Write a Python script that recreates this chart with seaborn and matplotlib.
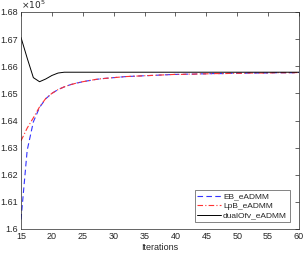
import numpy as np
import pandas as pd
import matplotlib

matplotlib.use('Agg')
import matplotlib.pyplot as plt
from matplotlib.ticker import FuncFormatter, MultipleLocator
import seaborn as sns

# values in units of 1e5
iterations = list(range(15, 61))
eb_eadmm = [1.6035, 1.6290, 1.6395, 1.6448, 1.6480, 1.6500, 1.6514, 1.6524, 1.6532, 1.6538,
            1.6543, 1.6547, 1.6551, 1.6554, 1.6556, 1.6558, 1.6560, 1.6562, 1.6563, 1.6564,
            1.6565, 1.6566, 1.6567, 1.6568, 1.6569, 1.6570, 1.6570, 1.6571, 1.6571, 1.6572,
            1.6572, 1.6573, 1.6573, 1.6573, 1.6574, 1.6574, 1.6574, 1.6575, 1.6575, 1.6575,
            1.6575, 1.6576, 1.6576, 1.6576, 1.6576, 1.6577]
lpb_eadmm = [1.6325, 1.6372, 1.6410, 1.6450, 1.6481, 1.6500, 1.6514, 1.6524, 1.6532, 1.6538,
             1.6543, 1.6547, 1.6551, 1.6554, 1.6556, 1.6558, 1.6560, 1.6562, 1.6563, 1.6564,
             1.6565, 1.6566, 1.6567, 1.6568, 1.6569, 1.6570, 1.6570, 1.6571, 1.6571, 1.6572,
             1.6572, 1.6573, 1.6573, 1.6573, 1.6574, 1.6574, 1.6574, 1.6575, 1.6575, 1.6575,
             1.6575, 1.6576, 1.6576, 1.6576, 1.6576, 1.6577]
dualofv_eadmm = [1.6706, 1.6630, 1.6558, 1.6543, 1.6553, 1.6566, 1.6575, 1.6578, 1.6578, 1.6578,
                 1.6578, 1.6578, 1.6578, 1.6578, 1.6578, 1.6578, 1.6578, 1.6578, 1.6578, 1.6578,
                 1.6578, 1.6578, 1.6578, 1.6578, 1.6578, 1.6578, 1.6578, 1.6578, 1.6578, 1.6578,
                 1.6578, 1.6578, 1.6578, 1.6578, 1.6578, 1.6578, 1.6578, 1.6578, 1.6578, 1.6578,
                 1.6578, 1.6578, 1.6578, 1.6578, 1.6578, 1.6578]

sns.set_style("white")
plt.rcParams['font.family'] = ['Liberation Sans', 'DejaVu Sans']

fig = plt.figure(figsize=(3.05, 2.54), dpi=100)
ax = fig.add_axes([21 / 305, 1 - 229 / 254, 278 / 305, 217 / 254])

sns.lineplot(x=iterations, y=eb_eadmm, ax=ax, color=(0.2, 0.2, 1.0), linewidth=0.8,
             linestyle=(0, (5, 3)), label='EB_eADMM')
sns.lineplot(x=iterations, y=lpb_eadmm, ax=ax, color=(1.0, 0.2, 0.2), linewidth=0.8,
             linestyle=(0, (5, 2, 1, 2)), label='LpB_eADMM')
sns.lineplot(x=iterations, y=dualofv_eadmm, ax=ax, color='black', linewidth=0.7,
             label='dualOfv_eADMM')

ax.set_xlim(15, 60)
ax.set_ylim(1.6, 1.68)
ax.xaxis.set_major_locator(MultipleLocator(5))
ax.yaxis.set_major_locator(MultipleLocator(0.01))
ax.yaxis.set_major_formatter(FuncFormatter(lambda v, p: f'{v:.2f}'.rstrip('0').rstrip('.')))
ax.tick_params(direction='in', length=3, width=0.5, labelsize=6.5, colors='#262626',
               top=True, right=True, pad=2)
for s in ax.spines.values():
    s.set_linewidth(0.5)
    s.set_color('#262626')

ax.set_xlabel('Iterations', fontsize=6.5, color='#262626', labelpad=1.5)
ax.text(0.0, 1.005, r'$\times10^5$', transform=ax.transAxes, fontsize=6.5,
        color='#262626', ha='left', va='bottom')

leg = ax.legend(loc='lower right', bbox_to_anchor=(0.975, 0.02), fontsize=6, frameon=True,
                fancybox=False, handlelength=2.8, borderpad=0.3, labelspacing=0.2,
                handletextpad=0.3, borderaxespad=0.3)
leg.get_frame().set_edgecolor('#262626')
leg.get_frame().set_linewidth(0.5)

fig.savefig('out.png', dpi=100)
